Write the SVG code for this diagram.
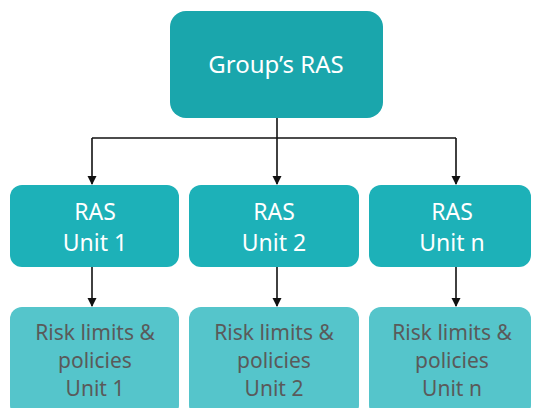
<svg xmlns="http://www.w3.org/2000/svg" width="534" height="408" viewBox="0 0 534 408">
<style>
text{font-family:"Noto Sans","Open Sans","Liberation Sans",sans-serif;text-anchor:middle}
.top{fill:#1aa6ac}
.mid{fill:#1db1b8}
.bot{fill:#55c5cb}
.wt{fill:#ffffff;font-size:23px}
.gt{fill:#5a5a5a;font-size:21px}
.c{fill:none;stroke:#111;stroke-width:1.6}
</style>
<defs>
<marker id="ah" markerWidth="10" markerHeight="10" refX="8" refY="5" orient="auto" markerUnits="userSpaceOnUse">
<path d="M0,0.5 L9,5 L0,9.5 Z" fill="#111"/>
</marker>
</defs>
<rect width="534" height="408" fill="#fff"/>
<g id="connectors">
<path class="c" d="M277,118 V138"/>
<path class="c" d="M92,138 H456"/>
<path class="c" d="M92,138 V184" marker-end="url(#ah)"/>
<path class="c" d="M277,138 V184" marker-end="url(#ah)"/>
<path class="c" d="M456,138 V184" marker-end="url(#ah)"/>
<path class="c" d="M92,267 V306" marker-end="url(#ah)"/>
<path class="c" d="M277,267 V306" marker-end="url(#ah)"/>
<path class="c" d="M456,267 V306" marker-end="url(#ah)"/>
</g>
<g id="group-ras">
<rect class="top" x="170" y="11" width="213" height="107" rx="16"/>
<text class="wt" x="276" y="73" style="font-size:24px">Group’s RAS</text>
</g>
<g id="ras-unit-1">
<rect class="mid" x="10" y="185" width="169" height="82" rx="12"/>
<text class="wt" x="95" y="220">RAS</text>
<text class="wt" x="95" y="251">Unit 1</text>
</g>
<g id="ras-unit-2">
<rect class="mid" x="189" y="185" width="170" height="82" rx="12"/>
<text class="wt" x="274" y="220">RAS</text>
<text class="wt" x="274" y="251">Unit 2</text>
</g>
<g id="ras-unit-n">
<rect class="mid" x="369" y="185" width="162" height="82" rx="12"/>
<text class="wt" x="452" y="220">RAS</text>
<text class="wt" x="452" y="251">Unit n</text>
</g>
<g id="limits-unit-1">
<rect class="bot" x="10" y="307" width="169" height="110" rx="12"/>
<text class="gt" x="95" y="340">Risk limits &amp;</text>
<text class="gt" x="95" y="368">policies</text>
<text class="gt" x="95" y="396">Unit 1</text>
</g>
<g id="limits-unit-2">
<rect class="bot" x="189" y="307" width="170" height="110" rx="12"/>
<text class="gt" x="274" y="340">Risk limits &amp;</text>
<text class="gt" x="274" y="368">policies</text>
<text class="gt" x="274" y="396">Unit 2</text>
</g>
<g id="limits-unit-n">
<rect class="bot" x="369" y="307" width="162" height="110" rx="12"/>
<text class="gt" x="452" y="340">Risk limits &amp;</text>
<text class="gt" x="452" y="368">policies</text>
<text class="gt" x="452" y="396">Unit n</text>
</g>
</svg>
